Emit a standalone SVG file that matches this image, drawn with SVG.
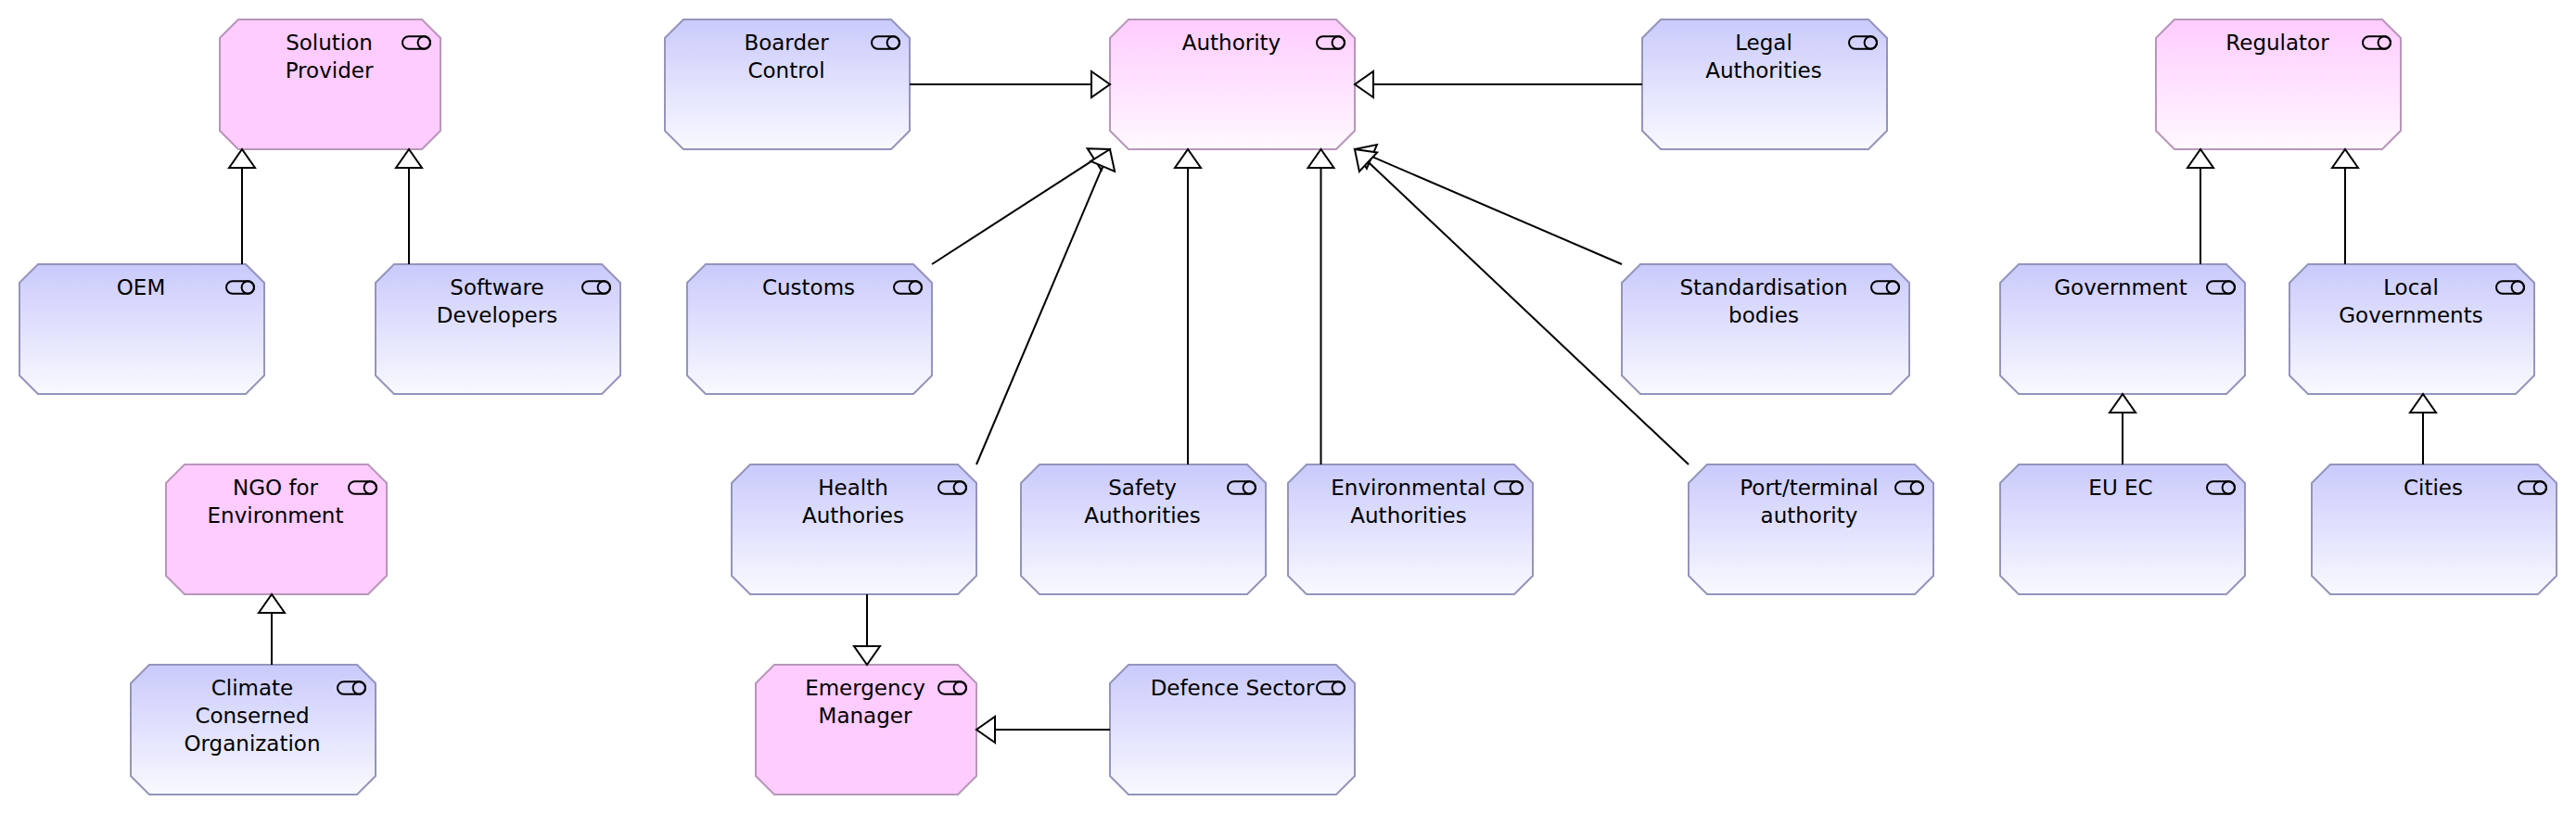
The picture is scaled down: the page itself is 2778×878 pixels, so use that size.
<svg xmlns="http://www.w3.org/2000/svg" width="2778" height="878" viewBox="0 0 2778 878">
<style>
text{font-family:"DejaVu Sans","Liberation Sans",sans-serif;font-size:23px;fill:#000;text-anchor:middle}
.blue{fill:url(#gb);stroke:#9494BC;stroke-width:2}
.pink{fill:#FFCCFF;stroke:#B896BA;stroke-width:2}
.pinkg{fill:url(#gp);stroke:#B896BA;stroke-width:2}
.ic{fill:none;stroke:#000;stroke-width:2}
.c{stroke:#000;stroke-width:2;fill:none;marker-end:url(#tri)}
</style>
<defs>
<linearGradient id="gb" x1="0.5" y1="0" x2="0.5" y2="1"><stop offset="0" stop-color="#CACAFC"/><stop offset="1" stop-color="#F9F9FF"/></linearGradient>
<linearGradient id="gp" x1="0.5" y1="0" x2="0.5" y2="1"><stop offset="0" stop-color="#FFCCFF"/><stop offset="1" stop-color="#FFF8FF"/></linearGradient>
<marker id="tri" markerUnits="userSpaceOnUse" markerWidth="26" markerHeight="34" viewBox="-2 -17 26 34" refX="0" refY="0" orient="auto" overflow="visible"><polygon points="0,-14 20,0 0,14" fill="#fff" stroke="#000" stroke-width="2"/></marker>
<g id="icon"><rect x="-1" y="-0.7" width="30" height="13.4" rx="6.7" class="ic"/><circle cx="22.3" cy="6" r="6.7" class="ic"/></g>
</defs>
<rect width="2778" height="878" fill="#fff"/>
<g id="n-solution" transform="translate(237,21)"><polygon class="pink" points="0,20 20,0 218,0 238,20 238,120 218,140 20,140 0,120"/><text x="118" y="33">Solution</text><text x="118" y="63">Provider</text><use href="#icon" x="198" y="19"/></g>
<g id="n-oem" transform="translate(21,285)"><polygon class="blue" points="0,20 20,0 244,0 264,20 264,120 244,140 20,140 0,120"/><text x="131" y="33">OEM</text><use href="#icon" x="224" y="19"/></g>
<g id="n-software" transform="translate(405,285)"><polygon class="blue" points="0,20 20,0 244,0 264,20 264,120 244,140 20,140 0,120"/><text x="131" y="33">Software</text><text x="131" y="63">Developers</text><use href="#icon" x="224" y="19"/></g>
<g id="n-ngo" transform="translate(179,501)"><polygon class="pink" points="0,20 20,0 218,0 238,20 238,120 218,140 20,140 0,120"/><text x="118" y="33">NGO for</text><text x="118" y="63">Environment</text><use href="#icon" x="198" y="19"/></g>
<g id="n-climate" transform="translate(141,717)"><polygon class="blue" points="0,20 20,0 244,0 264,20 264,120 244,140 20,140 0,120"/><text x="131" y="33">Climate</text><text x="131" y="63">Conserned</text><text x="131" y="93">Organization</text><use href="#icon" x="224" y="19"/></g>
<g id="n-boarder" transform="translate(717,21)"><polygon class="blue" points="0,20 20,0 244,0 264,20 264,120 244,140 20,140 0,120"/><text x="131" y="33">Boarder</text><text x="131" y="63">Control</text><use href="#icon" x="224" y="19"/></g>
<g id="n-authority" transform="translate(1197,21)"><polygon class="pinkg" points="0,20 20,0 244,0 264,20 264,120 244,140 20,140 0,120"/><text x="131" y="33">Authority</text><use href="#icon" x="224" y="19"/></g>
<g id="n-legal" transform="translate(1771,21)"><polygon class="blue" points="0,20 20,0 244,0 264,20 264,120 244,140 20,140 0,120"/><text x="131" y="33">Legal</text><text x="131" y="63">Authorities</text><use href="#icon" x="224" y="19"/></g>
<g id="n-customs" transform="translate(741,285)"><polygon class="blue" points="0,20 20,0 244,0 264,20 264,120 244,140 20,140 0,120"/><text x="131" y="33">Customs</text><use href="#icon" x="224" y="19"/></g>
<g id="n-standard" transform="translate(1749,285)"><polygon class="blue" points="0,20 20,0 290,0 310,20 310,120 290,140 20,140 0,120"/><text x="153" y="33">Standardisation</text><text x="153" y="63">bodies</text><use href="#icon" x="270" y="19"/></g>
<g id="n-health" transform="translate(789,501)"><polygon class="blue" points="0,20 20,0 244,0 264,20 264,120 244,140 20,140 0,120"/><text x="131" y="33">Health</text><text x="131" y="63">Authories</text><use href="#icon" x="224" y="19"/></g>
<g id="n-safety" transform="translate(1101,501)"><polygon class="blue" points="0,20 20,0 244,0 264,20 264,120 244,140 20,140 0,120"/><text x="131" y="33">Safety</text><text x="131" y="63">Authorities</text><use href="#icon" x="224" y="19"/></g>
<g id="n-env" transform="translate(1389,501)"><polygon class="blue" points="0,20 20,0 244,0 264,20 264,120 244,140 20,140 0,120"/><text x="130" y="33">Environmental</text><text x="130" y="63">Authorities</text><use href="#icon" x="224" y="19"/></g>
<g id="n-port" transform="translate(1821,501)"><polygon class="blue" points="0,20 20,0 244,0 264,20 264,120 244,140 20,140 0,120"/><text x="130" y="33">Port/terminal</text><text x="130" y="63">authority</text><use href="#icon" x="224" y="19"/></g>
<g id="n-emergency" transform="translate(815,717)"><polygon class="pink" points="0,20 20,0 218,0 238,20 238,120 218,140 20,140 0,120"/><text x="118" y="33">Emergency</text><text x="118" y="63">Manager</text><use href="#icon" x="198" y="19"/></g>
<g id="n-defence" transform="translate(1197,717)"><polygon class="blue" points="0,20 20,0 244,0 264,20 264,120 244,140 20,140 0,120"/><text x="132" y="33">Defence Sector</text><use href="#icon" x="224" y="19"/></g>
<g id="n-regulator" transform="translate(2325,21)"><polygon class="pinkg" points="0,20 20,0 244,0 264,20 264,120 244,140 20,140 0,120"/><text x="131" y="33">Regulator</text><use href="#icon" x="224" y="19"/></g>
<g id="n-government" transform="translate(2157,285)"><polygon class="blue" points="0,20 20,0 244,0 264,20 264,120 244,140 20,140 0,120"/><text x="130" y="33">Government</text><use href="#icon" x="224" y="19"/></g>
<g id="n-local" transform="translate(2469,285)"><polygon class="blue" points="0,20 20,0 244,0 264,20 264,120 244,140 20,140 0,120"/><text x="131" y="33">Local</text><text x="131" y="63">Governments</text><use href="#icon" x="224" y="19"/></g>
<g id="n-eu" transform="translate(2157,501)"><polygon class="blue" points="0,20 20,0 244,0 264,20 264,120 244,140 20,140 0,120"/><text x="130" y="33">EU EC</text><use href="#icon" x="224" y="19"/></g>
<g id="n-cities" transform="translate(2493,501)"><polygon class="blue" points="0,20 20,0 244,0 264,20 264,120 244,140 20,140 0,120"/><text x="131" y="33">Cities</text><use href="#icon" x="224" y="19"/></g>
<g id="connectors">
<line class="c" x1="261" y1="285" x2="261" y2="181"/>
<line class="c" x1="441" y1="285" x2="441" y2="181"/>
<line class="c" x1="293" y1="717" x2="293" y2="661"/>
<line class="c" x1="981" y1="91" x2="1177" y2="91"/>
<line class="c" x1="1771" y1="91" x2="1481" y2="91"/>
<line class="c" x1="1005" y1="285" x2="1180.2" y2="171.9"/>
<line class="c" x1="1053" y1="501" x2="1189.2" y2="179.4"/>
<line class="c" x1="1281" y1="501" x2="1281" y2="181"/>
<line class="c" x1="1424.5" y1="501" x2="1424.5" y2="181"/>
<line class="c" x1="1749" y1="285" x2="1479.4" y2="168.9"/>
<line class="c" x1="1821" y1="501" x2="1475.5" y2="174.7"/>
<line class="c" x1="935" y1="641" x2="935" y2="697"/>
<line class="c" x1="1197" y1="787" x2="1073" y2="787"/>
<line class="c" x1="2373" y1="285" x2="2373" y2="181"/>
<line class="c" x1="2529" y1="285" x2="2529" y2="181"/>
<line class="c" x1="2289" y1="501" x2="2289" y2="445"/>
<line class="c" x1="2613" y1="501" x2="2613" y2="445"/>
</g>
</svg>
